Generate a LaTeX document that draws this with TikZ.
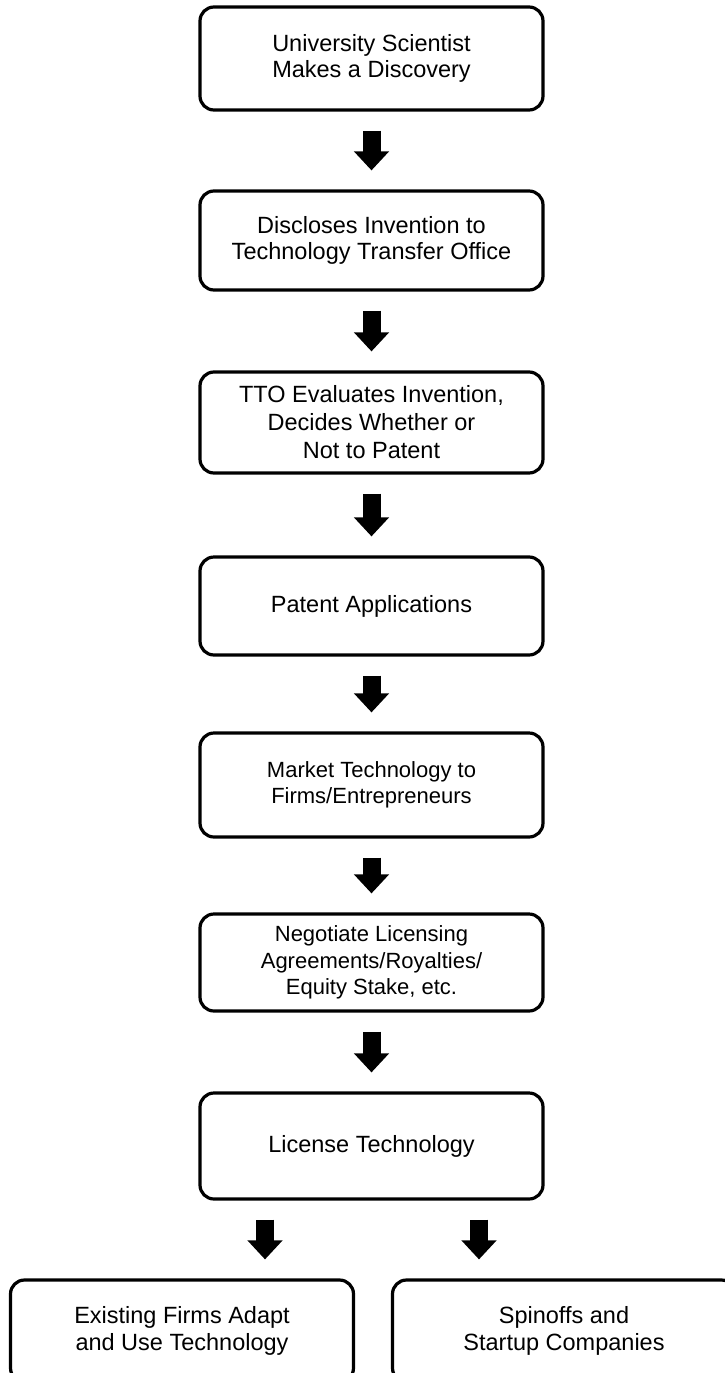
\documentclass[tikz,border=0pt]{standalone}
\usepackage{fontspec}
\setmainfont{Liberation Sans}
\usetikzlibrary{arrows.meta}
\tikzset{
  stepbox/.style={draw=black, line width=3.2pt, rounded corners=14pt, fill=white,
    minimum width=343pt, align=center, inner sep=0pt,
    font=\fontsize{23.5}{26.5}\selectfont},
  bigarrow/.style={line width=18pt, black,
    -{Triangle[width=34pt,length=19pt]},
    shorten <=19pt, shorten >=19pt}
}
\begin{document}
\begin{tikzpicture}[x=1pt,y=-1pt]
\clip (0,0) rectangle (725,1373);
\fill[white] (0,0) rectangle (725,1373);
\node[stepbox, minimum height=103pt] (b1) at (371.5,58.5) {University Scientist\\Makes a Discovery};
\node[stepbox, minimum height=99pt] (b2) at (371.5,240.5) {Discloses Invention to\\Technology Transfer Office};
\node[stepbox, minimum height=101pt, font=\fontsize{23.5}{28}\selectfont] (b3) at (371.5,422.5) {TTO Evaluates Invention,\\Decides Whether or\\Not to Patent};
\node[stepbox, minimum height=98pt] (b4) at (371.5,606) {Patent Applications};
\node[stepbox, minimum height=104pt, font=\fontsize{22}{26}\selectfont] (b5) at (371.5,785) {Market Technology to\\Firms/Entrepreneurs};
\node[stepbox, minimum height=97pt, font=\fontsize{22}{26.5}\selectfont] (b6) at (371.5,962.5) {Negotiate Licensing\\Agreements/Royalties/\\Equity Stake, etc.};
\node[stepbox, minimum height=106pt] (b7) at (371.5,1146) {License Technology};
\node[stepbox, minimum height=102pt] (b8) at (182,1331) {Existing Firms Adapt\\and Use Technology};
\node[stepbox, minimum height=102pt] (b9) at (564,1331) {Spinoffs and\\Startup Companies};
\coordinate (xl) at (265,0);
\coordinate (xr) at (479,0);
\draw[bigarrow] (b1) -- (b2);
\draw[bigarrow] (b2) -- (b3);
\draw[bigarrow] (b3) -- (b4);
\draw[bigarrow] (b4) -- (b5);
\draw[bigarrow] (b5) -- (b6);
\draw[bigarrow] (b6) -- (b7);
\draw[bigarrow] (b7.south -| xl) -- (b8.north -| xl);
\draw[bigarrow] (b7.south -| xr) -- (b9.north -| xr);
\end{tikzpicture}
\end{document}
